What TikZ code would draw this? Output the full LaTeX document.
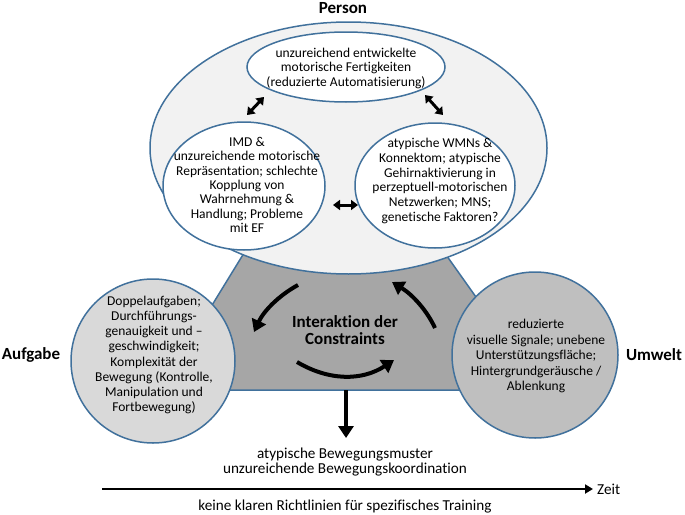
\documentclass[tikz,border=0pt]{standalone}
\usepackage{fontspec}
\setmainfont{Carlito}[Ligatures=NoCommon]
\usetikzlibrary{arrows.meta,shapes.geometric}
\definecolor{cblue}{RGB}{65,113,156}
\definecolor{ellfill}{RGB}{242,242,242}
\definecolor{trapfill}{RGB}{166,166,166}
\definecolor{lcfill}{RGB}{217,217,217}
\definecolor{rcfill}{RGB}{191,191,191}
\tikzset{
  border/.style={draw=cblue, line width=1.5pt},
  ell/.style={border, ellipse, inner sep=0pt},
  txt/.style={align=center, inner sep=0pt, font=\fontsize{13.5}{14.5}\selectfont},
  lbl/.style={inner sep=0pt, font=\fontsize{17}{19}\selectfont\bfseries},
  bigarrow/.style={line width=4pt, -{Triangle[length=12pt,width=15pt]}},
  dblarrow/.style={line width=3pt, {Triangle[length=7pt,width=10pt]}-{Triangle[length=7pt,width=10pt]}},
  timearrow/.style={line width=2.5pt, -{Triangle[length=8pt,width=9pt]}}
}
\begin{document}
\begin{tikzpicture}[x=1pt,y=-1pt]
\useasboundingbox (0,0) rectangle (685,514);
% trapezoid
\draw[border, fill=trapfill] (252,240) -- (435.5,240) -- (542,390) -- (160,390) -- cycle;
% side circles
\node[ell, circle, fill=lcfill, minimum size=164pt] (aufg) at (153,361) {};
\node[ell, circle, fill=rcfill, minimum size=166pt] (umw) at (535,355) {};
% person ellipse
\node[ell, fill=ellfill, minimum width=397pt, minimum height=252pt] (pers) at (348.5,148) {};
\node[ell, fill=white, minimum width=198pt, minimum height=70pt] (top) at (346,67) {};
\node[ell, fill=white, minimum width=162pt, minimum height=128pt] (left) at (244,186) {};
\node[ell, fill=white, minimum width=160pt, minimum height=125pt] (right) at (435,185.5) {};
% texts
\node[lbl] (tperson) at (343,8) {Person};
\node[lbl] (taufg) at (31,355) {Aufgabe};
\node[lbl] (tumw) at (654,355) {Umwelt};
\node[txt] (ttop) at (346,68) {unzureichend entwickelte\\motorische Fertigkeiten\\(reduzierte Automatisierung)};
\node[txt, font=\fontsize{13.5}{14.3}\selectfont] (tleft) at (247,185) {IMD \&\\unzureichende motorische\\Repräsentation; schlechte\\Kopplung von\\Wahrnehmung \&\\Handlung; Probleme\\mit EF};
\node[txt, font=\fontsize{13.5}{14.8}\selectfont] (tright) at (440,181) {atypische WMNs \&\\Konnektom; atypische\\Gehirnaktivierung in\\perzeptuell-motorischen\\Netzwerken; MNS;\\genetische Faktoren?};
\node[txt, font=\fontsize{13.5}{15.2}\selectfont] (taufgtxt) at (154,355) {Doppelaufgaben;\\Durchführungs-\\genauigkeit und --\\geschwindigkeit;\\Komplexität der\\Bewegung (Kontrolle,\\Manipulation und\\Fortbewegung)};
\node[txt, font=\fontsize{13.5}{15.5}\selectfont] (tumwtxt) at (536,356) {reduzierte\\visuelle Signale; unebene\\Unterstützungsfläche;\\Hintergrundgeräusche /\\Ablenkung};
\node[lbl, align=center, font=\fontsize{17}{17}\selectfont\bfseries] (tinter) at (345,330) {Interaktion der\\Constraints};
\node[txt, font=\fontsize{15.2}{15.5}\selectfont] (tout) at (345,462) {atypische Bewegungsmuster\\unzureichende Bewegungskoordination};
\node[txt, font=\fontsize{15.2}{15.5}\selectfont] (tkeine) at (345,507) {keine klaren Richtlinien für spezifisches Training};
\node[txt, font=\fontsize{15.2}{15.5}\selectfont, anchor=west] (tzeit) at (597,489) {Zeit};
% double arrows inside person
\coordinate (a1) at (264,97); \coordinate (a2) at (247,115);
\coordinate (b1) at (425,95); \coordinate (b2) at (443,115);
\coordinate (c1) at (333,205); \coordinate (c2) at (358,205);
\draw[dblarrow] (a1) -- (a2);
\draw[dblarrow] (b1) -- (b2);
\draw[dblarrow] (c1) -- (c2);
% interaction arrows
\coordinate (tl1) at (298,285); \coordinate (tl2) at (254,332);
\coordinate (tr1) at (435,328); \coordinate (tr2) at (392,282);
\coordinate (bo1) at (297,362); \coordinate (bo2) at (394,360);
\draw[bigarrow] (tl1) .. controls (278,296) and (263.4,311.6) .. (tl2);
\draw[bigarrow] (tr1) .. controls (426.7,310) and (412.3,294.6) .. (tr2);
\draw[bigarrow] (bo1) .. controls (329,381) and (362,381) .. (bo2);
% output arrow
\coordinate (d1) at (346,390); \coordinate (d2) at (346,438);
\draw[bigarrow] (d1) -- (d2);
% time arrow
\coordinate (z1) at (102,489);
\draw[timearrow] (z1) -- ([xshift=-4pt]tzeit.west);
\end{tikzpicture}
\end{document}
